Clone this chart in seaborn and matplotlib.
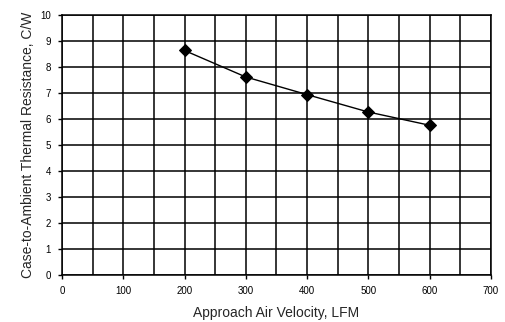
import matplotlib
matplotlib.use("Agg")
import matplotlib.pyplot as plt
import seaborn as sns
import pandas as pd
from matplotlib.ticker import MultipleLocator

velocity = [200, 300, 400, 500, 600]
resistance = [8.65, 7.63, 6.95, 6.28, 5.77]

sns.set_style("white")
plt.rcParams['font.family'] = ['Liberation Sans', 'DejaVu Sans']

df = pd.DataFrame({"v": velocity, "r": resistance})

fig = plt.figure(figsize=(5.06, 3.22), dpi=100)
ax = fig.add_axes([0.1225, 0.146, 0.8475, 0.806])
sns.lineplot(data=df, x="v", y="r", ax=ax, color="black", linewidth=1.0,
             marker="D", markersize=6, markeredgecolor="black", zorder=5)

ax.set_xlim(0, 700)
ax.set_ylim(0, 10)
ax.xaxis.set_major_locator(MultipleLocator(100))
ax.xaxis.set_minor_locator(MultipleLocator(50))
ax.yaxis.set_major_locator(MultipleLocator(1))
ax.grid(True, which="both", axis="x", color="black", linewidth=1.1)
ax.grid(True, which="major", axis="y", color="black", linewidth=1.1)
ax.tick_params(axis="both", which="major", direction="out", length=3, width=1,
               labelsize=7, colors="black", pad=5, left=True, bottom=True)
ax.tick_params(axis="x", which="minor", length=0)
for s in ax.spines.values():
    s.set_color("black")
    s.set_linewidth(1.1)

ax.set_xlabel("Approach Air Velocity, LFM", fontsize=10, labelpad=7)
ax.set_ylabel("Case-to-Ambient Thermal Resistance, C/W", fontsize=10, labelpad=4)

fig.savefig("out.png", dpi=100)
